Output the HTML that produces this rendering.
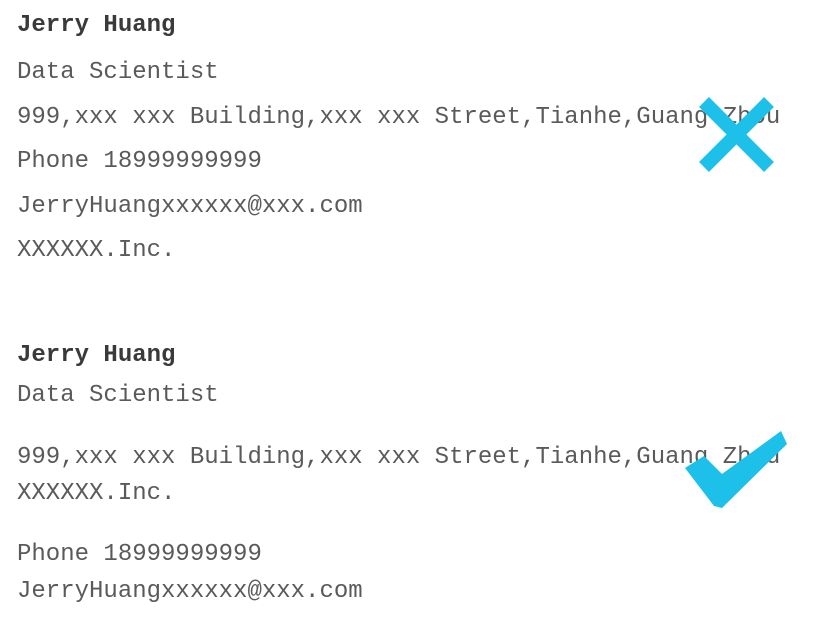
<!DOCTYPE html>
<html><head><style>
body{margin:0;background:#fff;width:838px;height:618px;position:relative;overflow:hidden;font-family:"Liberation Mono",monospace;color:#5a5a5a;}
.t{position:absolute;left:17px;font-size:24px;line-height:1;white-space:pre;}
.b{font-weight:bold;color:#3a3a3a;}
</style></head><body>
<div class="t b" style="top:14px">Jerry Huang</div>
<div class="t" style="top:61px">Data Scientist</div>
<div class="t" style="top:106px">999,xxx xxx Building,xxx xxx Street,Tianhe,Guang Zhou</div>
<div class="t" style="top:150px">Phone 18999999999</div>
<div class="t" style="top:195px">JerryHuangxxxxxx@xxx.com</div>
<div class="t" style="top:239px">XXXXXX.Inc.</div>
<div class="t b" style="top:344px">Jerry Huang</div>
<div class="t" style="top:384px">Data Scientist</div>
<div class="t" style="top:446px">999,xxx xxx Building,xxx xxx Street,Tianhe,Guang Zhou</div>
<div class="t" style="top:482px">XXXXXX.Inc.</div>
<div class="t" style="top:543px">Phone 18999999999</div>
<div class="t" style="top:580px">JerryHuangxxxxxx@xxx.com</div>
<svg width="838" height="618" style="position:absolute;left:0;top:0">
<g stroke="#1dc0e8" stroke-width="14">
<line x1="704" y1="102" x2="769" y2="167"/>
<line x1="769" y1="102" x2="704" y2="167"/>
</g>
<polygon fill="#1dc0e8" points="685,468 704,456 722,474 781,431 787,444 722,508 714,506"/>
</svg>
</body></html>
